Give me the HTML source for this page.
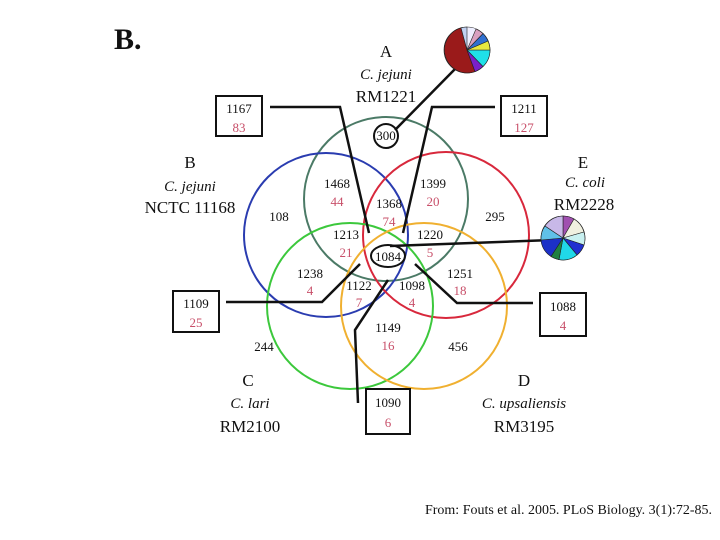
<!DOCTYPE html>
<html><head><meta charset="utf-8"><style>
html,body{margin:0;padding:0;background:#fff;}
svg{display:block;}
text{font-family:"Liberation Serif",serif;}
.n{font-size:13px;fill:#111;text-anchor:middle;}
.r{font-size:13px;fill:#c8506a;text-anchor:middle;}
.l{font-size:17px;fill:#111;text-anchor:middle;}
.i{font-size:15px;font-style:italic;fill:#111;text-anchor:middle;}
</style></head><body>
<svg width="720" height="540" viewBox="0 0 720 540" xmlns="http://www.w3.org/2000/svg">
<text x="114" y="49" style="font-size:30px;font-weight:bold;fill:#111;">B.</text>

<g fill="none" stroke-width="2">
<circle cx="386" cy="199" r="82" stroke="#4b7a66"/>
<circle cx="326" cy="235" r="82" stroke="#2a3cb0"/>
<circle cx="446" cy="235" r="83" stroke="#d8283c"/>
<circle cx="350" cy="306" r="83" stroke="#3cc83c"/>
<circle cx="424" cy="306" r="83" stroke="#f0b030"/>
</g>

<g fill="none" stroke="#111" stroke-width="2.5">
<polyline points="270,107 340,107 369,233"/>
<polyline points="495,107 432,107 403,233"/>
<line x1="395" y1="130" x2="457" y2="67"/>
<line x1="390" y1="246" x2="552" y2="240"/>
<polyline points="226,302 322,302 360,264"/>
<polyline points="533,303 457,303 415,264"/>
<polyline points="358,403 355,330 388,280"/>
<circle cx="386" cy="136" r="12" stroke-width="2"/>
<ellipse cx="388" cy="256" rx="17" ry="11" stroke-width="2"/>
<rect x="216" y="96" width="46" height="40" stroke-width="2"/>
<rect x="501" y="96" width="46" height="40" stroke-width="2"/>
<rect x="173" y="291" width="46" height="41" stroke-width="2"/>
<rect x="540" y="293" width="46" height="43" stroke-width="2"/>
<rect x="366" y="389" width="44" height="45" stroke-width="2"/>
</g>

<g transform="translate(467,50)" stroke="#222" stroke-width="0.6">
<circle r="23" fill="#eef"/>
<path d="M0,0 L8,21.6 A23,23 0 1 1 -6,-22.2 Z" fill="#9a1a1a"/>
<path d="M0,0 L8,21.6 A23,23 0 0 0 16,16.5 Z" fill="#7a20c8"/>
<path d="M0,0 L16,16.5 A23,23 0 0 0 23,0 Z" fill="#20e0e8"/>
<path d="M0,0 L23,0 A23,23 0 0 0 21,-9 Z" fill="#e8e840"/>
<path d="M0,0 L21,-9 A23,23 0 0 0 16,-16.5 Z" fill="#3070d0"/>
<path d="M0,0 L16,-16.5 A23,23 0 0 0 9,-21 Z" fill="#d8a0c0"/>
<path d="M0,0 L-6,-22.2 A23,23 0 0 1 0,-23 Z" fill="#c0d0f0"/>
</g>
<g transform="translate(563,238)" stroke="#222" stroke-width="0.6">
<circle r="22" fill="#d0e8f0"/>
<path d="M0,0 L0,-22 A22,22 0 0 1 11,-19 Z" fill="#a050b0"/>
<path d="M0,0 L11,-19 A22,22 0 0 1 21,-6 Z" fill="#f0f0e0"/>
<path d="M0,0 L21,-6 A22,22 0 0 1 21,7 Z" fill="#c8f0f0"/>
<path d="M0,0 L21,7 A22,22 0 0 1 14,17 Z" fill="#2030d0"/>
<path d="M0,0 L14,17 A22,22 0 0 1 -4,21.6 Z" fill="#20d8e8"/>
<path d="M0,0 L-4,21.6 A22,22 0 0 1 -12,18.4 Z" fill="#208040"/>
<path d="M0,0 L-12,18.4 A22,22 0 0 1 -22,2 Z" fill="#1c30c8"/>
<path d="M0,0 L-22,2 A22,22 0 0 1 -18,-12 Z" fill="#60c0e8"/>
<path d="M0,0 L-18,-12 A22,22 0 0 1 0,-22 Z" fill="#c8b8e8"/>
</g>

<text class="l" x="386" y="57">A</text>
<text class="i" x="386" y="79">C. jejuni</text>
<text class="l" x="386" y="102">RM1221</text>
<text class="l" x="190" y="168">B</text>
<text class="i" x="190" y="191">C. jejuni</text>
<text class="l" x="190" y="213">NCTC 11168</text>
<text class="l" x="583" y="168">E</text>
<text class="i" x="585" y="187">C. coli</text>
<text class="l" x="584" y="210">RM2228</text>
<text class="l" x="248" y="386">C</text>
<text class="i" x="250" y="408">C. lari</text>
<text class="l" x="250" y="432">RM2100</text>
<text class="l" x="524" y="386">D</text>
<text class="i" x="524" y="408">C. upsaliensis</text>
<text class="l" x="524" y="432">RM3195</text>

<text class="n" x="386" y="140">300</text>
<text class="n" x="239" y="113">1167</text><text class="r" x="239" y="132">83</text>
<text class="n" x="524" y="113">1211</text><text class="r" x="524" y="132">127</text>
<text class="n" x="196" y="308">1109</text><text class="r" x="196" y="327">25</text>
<text class="n" x="563" y="311">1088</text><text class="r" x="563" y="330">4</text>
<text class="n" x="388" y="407">1090</text><text class="r" x="388" y="427">6</text>
<text class="n" x="337" y="188">1468</text><text class="r" x="337" y="206">44</text>
<text class="n" x="433" y="188">1399</text><text class="r" x="433" y="206">20</text>
<text class="n" x="389" y="208">1368</text><text class="r" x="389" y="226">74</text>
<text class="n" x="279" y="221">108</text>
<text class="n" x="495" y="221">295</text>
<text class="n" x="346" y="239">1213</text><text class="r" x="346" y="257">21</text>
<text class="n" x="430" y="239">1220</text><text class="r" x="430" y="257">5</text>
<text class="n" x="388" y="261">1084</text>
<text class="n" x="310" y="278">1238</text><text class="r" x="310" y="295">4</text>
<text class="n" x="460" y="278">1251</text><text class="r" x="460" y="295">18</text>
<text class="n" x="359" y="290">1122</text><text class="r" x="359" y="307">7</text>
<text class="n" x="412" y="290">1098</text><text class="r" x="412" y="307">4</text>
<text class="n" x="388" y="332">1149</text><text class="r" x="388" y="350">16</text>
<text class="n" x="264" y="351">244</text>
<text class="n" x="458" y="351">456</text>

<text x="425" y="514" textLength="287" lengthAdjust="spacingAndGlyphs" style="font-size:13.5px;fill:#111;">From: Fouts et al. 2005. PLoS Biology. 3(1):72-85.</text>
</svg>
</body></html>
